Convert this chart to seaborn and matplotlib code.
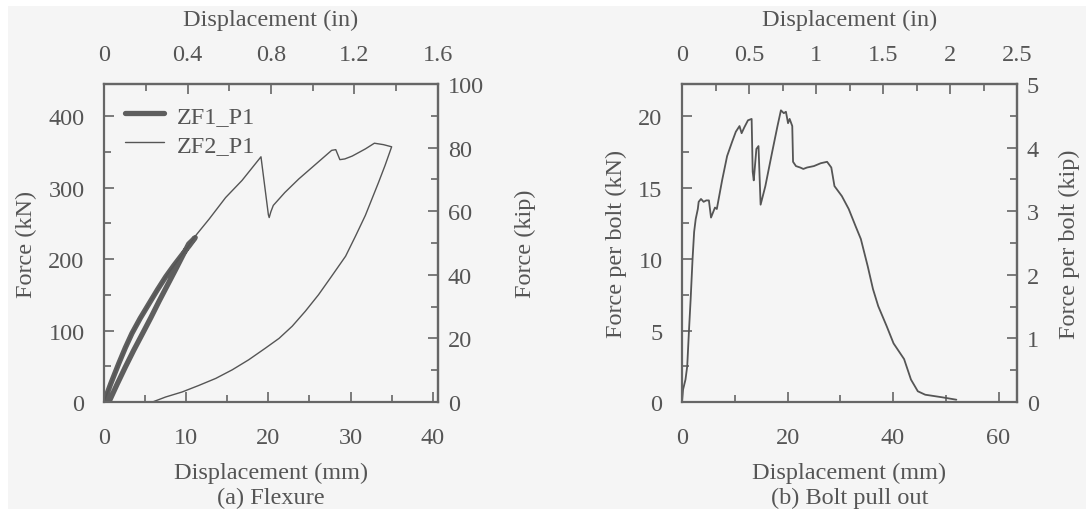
import numpy as np
import pandas as pd
import matplotlib
matplotlib.use("Agg")
import matplotlib.pyplot as plt
import seaborn as sns
from matplotlib.ticker import MultipleLocator, FixedLocator, FuncFormatter
from matplotlib.patches import Rectangle

# ---------------- data ----------------
# (a) Flexure: force (kN) vs displacement (mm)
zf1_disp = [0, 0.8, 1.8, 2.6, 3.4, 4.4, 5.5, 6.5, 7.5, 8.5, 9.5, 10.4, 11.1,
            10.3, 9.5, 8.7, 7.7, 6.7, 5.7, 4.7, 3.6, 2.6, 1.6, 0.6]
zf1_force = [0, 25, 54, 76, 96, 117, 138, 157, 175, 191, 206, 219, 230,
             221, 203, 185, 163, 141, 118, 96, 72, 49, 25, 0]

zf2_disp = [0, 0.8, 1.8, 3.4, 5.5, 7.5, 9.5, 11.1, 12.8, 14.8, 16.8, 19.1,
            20.0, 20.1, 20.3, 20.6, 22.0, 23.7, 25.7, 27.7, 28.2, 28.7, 29.3,
            30.2, 31.0, 31.8, 32.9, 34.0, 35.0, 34.2, 33.4, 32.6, 31.8, 30.6,
            29.4, 27.7, 26.1, 24.5, 22.9, 21.3, 19.6, 17.6, 15.6, 13.6, 11.5,
            9.5, 7.5, 5.9]
zf2_force = [0, 25, 54, 96, 138, 175, 206, 232, 256, 286, 310, 343,
             262, 258, 266, 275, 293, 312, 332, 352, 353, 339, 340,
             344, 349, 354, 362, 360, 357, 331, 307, 284, 261, 232,
             204, 176, 150, 127, 106, 89, 75, 59, 45, 33, 23,
             14, 7, 0]

# (b) Bolt pull out: force per bolt (kN) vs displacement (mm)
bolt_disp = [0, 0.2, 0.66, 0.99, 1.3, 1.64, 2.0, 2.3, 2.6, 3.0, 3.16, 3.6, 4.1,
             4.6, 5.1, 5.5, 6.25, 6.6, 7.6, 8.55, 9.5, 10.2, 10.9, 11.3, 11.8,
             12.5, 13.2, 13.4, 13.6, 14.1, 14.5, 14.9, 15.8, 17.1, 18.1, 18.75,
             19.3, 19.7, 20.1, 20.4, 20.9, 21.05, 21.6, 22.4, 23.0, 23.7, 25.0,
             26.3, 27.5, 28.3, 28.9, 30.3, 31.6, 32.9, 33.9, 35.2, 36.2, 37.2,
             38.8, 40.1, 42.1, 43.4, 44.7, 46.1, 49.3, 52.0]
bolt_force = [0, 0.87, 1.57, 2.5, 4.84, 7.2, 10.0, 11.9, 12.8, 13.5, 14.0, 14.2,
              14.0, 14.1, 14.1, 12.9, 13.6, 13.5, 15.5, 17.2, 18.2, 18.9, 19.3,
              18.8, 19.2, 19.7, 19.8, 16.1, 15.5, 17.7, 17.9, 13.8, 15.1, 17.5,
              19.3, 20.4, 20.2, 20.3, 19.5, 19.8, 19.3, 16.8, 16.5, 16.4, 16.3,
              16.4, 16.5, 16.7, 16.8, 16.4, 15.1, 14.4, 13.5, 12.3, 11.4, 9.5,
              7.9, 6.7, 5.3, 4.1, 3.0, 1.57, 0.75, 0.51, 0.33, 0.16]

series_labels = ["ZF1_P1", "ZF2_P1"]
panel_titles = ["(a) Flexure", "(b) Bolt pull out"]

# tick values (labelled)
a_in_ticks = [0, 0.4, 0.8, 1.2, 1.6]
a_kip_ticks = [0, 20, 40, 60, 80, 100]
b_in_ticks = [0, 0.5, 1, 1.5, 2, 2.5]
b_kip_ticks = [0, 1, 2, 3, 4, 5]

MM_PER_IN = 25.4
KN_PER_KIP = 4.44822

# ---------------- style ----------------
sns.set_theme(style="ticks")
plt.rcParams["font.family"] = ["Liberation Serif", "DejaVu Serif"]
TXT = "#555555"
BG = "#f5f5f5"
FS = 17.5
plt.rcParams.update({
    "text.color": TXT, "axes.labelcolor": TXT,
    "xtick.color": "#666666", "ytick.color": "#666666",
    "xtick.labelcolor": TXT, "ytick.labelcolor": TXT,
    "axes.edgecolor": "#666666",
})

W, H = 1086, 510
fig = plt.figure(figsize=(W / 100, H / 100), dpi=100, facecolor="white")
fig.patches.append(Rectangle((8 / W, 0), 1, (H - 7) / H, transform=fig.transFigure,
                             facecolor=BG, edgecolor="none", zorder=-10))


def box(x0, y0, x1, y1):
    return [x0 / W, 1 - y1 / H, (x1 - x0) / W, (y1 - y0) / H]


def minor_between(ticks):
    return [(a + b) / 2 for a, b in zip(ticks[:-1], ticks[1:])]


def style_axes(ax, sec_x, sec_y, xmaj, xmin, ymaj, ymin, sx_ticks, sy_ticks):
    ax.set_facecolor(BG)
    for s in ax.spines.values():
        s.set_linewidth(1.6)
        s.set_color("#666666")
    for a in (ax, sec_x, sec_y):
        a.tick_params(which="both", direction="in", labelsize=FS, width=1.2)
        a.tick_params(which="major", length=7)
        a.tick_params(which="minor", length=5)
    ax.tick_params(axis="x", which="both", pad=18)
    ax.tick_params(axis="y", which="both", pad=14)
    sec_x.tick_params(axis="x", which="both", pad=14)
    sec_y.tick_params(axis="y", which="both", pad=7)
    ax.xaxis.set_major_locator(MultipleLocator(xmaj))
    ax.xaxis.set_minor_locator(MultipleLocator(xmin))
    ax.yaxis.set_major_locator(MultipleLocator(ymaj))
    ax.yaxis.set_minor_locator(MultipleLocator(ymin))
    sec_x.xaxis.set_major_locator(FixedLocator(sx_ticks))
    sec_x.xaxis.set_minor_locator(FixedLocator(minor_between(sx_ticks)))
    sec_x.xaxis.set_major_formatter(FuncFormatter(lambda v, p: f"{v:g}"))
    sec_y.yaxis.set_major_locator(FixedLocator(sy_ticks))
    sec_y.yaxis.set_minor_locator(FixedLocator(minor_between(sy_ticks)))
    sec_y.yaxis.set_major_formatter(FuncFormatter(lambda v, p: f"{v:g}"))
    for sp in list(sec_x.spines.values()) + list(sec_y.spines.values()):
        sp.set_linewidth(1.6)
        sp.set_color("#808080")


# ---------- (a) Flexure ----------
ax1 = fig.add_axes(box(104, 85, 438, 403))
df1 = pd.DataFrame({"d": zf1_disp, "f": zf1_force})
df2 = pd.DataFrame({"d": zf2_disp, "f": zf2_force})
sns.lineplot(data=df1, x="d", y="f", sort=False, estimator=None, ax=ax1,
             color="#5e5e5e", linewidth=3.8, label=series_labels[0])
sns.lineplot(data=df2, x="d", y="f", sort=False, estimator=None, ax=ax1,
             color="#555555", linewidth=1.0, label=series_labels[1])
ax1.set_xlim(0, a_in_ticks[-1] * MM_PER_IN)
ax1.set_ylim(0, a_kip_ticks[-1] * KN_PER_KIP)
ax1.set_xlabel("Displacement (mm)", fontsize=FS, labelpad=10)
ax1.set_ylabel("Force (kN)", fontsize=FS, labelpad=8)
sx1 = ax1.secondary_xaxis("top", functions=(lambda v: v / MM_PER_IN, lambda v: v * MM_PER_IN))
sy1 = ax1.secondary_yaxis("right", functions=(lambda v: v / KN_PER_KIP, lambda v: v * KN_PER_KIP))
sx1.set_xlabel("Displacement (in)", fontsize=FS, labelpad=13)
sy1.set_ylabel("Force (kip)", fontsize=FS, labelpad=22)
style_axes(ax1, sx1, sy1, 10, 5, 100, 50, a_in_ticks, a_kip_ticks)
leg = ax1.legend(loc="upper left", frameon=False, fontsize=FS, handlelength=1.6,
                 borderaxespad=0.55, labelspacing=0.3, handletextpad=0.55,
                 borderpad=0.3)
for t in leg.get_texts():
    t.set_color(TXT)
fig.text((104 + 438) / 2 / W, 1 - 498 / H, panel_titles[0], ha="center", va="center",
         fontsize=FS, color=TXT)

# ---------- (b) Bolt pull out ----------
ax2 = fig.add_axes(box(682, 85, 1017, 403))
df3 = pd.DataFrame({"d": bolt_disp, "f": bolt_force})
sns.lineplot(data=df3, x="d", y="f", sort=False, estimator=None, ax=ax2,
             color="#555555", linewidth=1.3)
ax2.set_xlim(0, b_in_ticks[-1] * MM_PER_IN)
ax2.set_ylim(0, b_kip_ticks[-1] * KN_PER_KIP)
ax2.set_xlabel("Displacement (mm)", fontsize=FS, labelpad=10)
ax2.set_ylabel("Force per bolt (kN)", fontsize=FS, labelpad=8)
sx2 = ax2.secondary_xaxis("top", functions=(lambda v: v / MM_PER_IN, lambda v: v * MM_PER_IN))
sy2 = ax2.secondary_yaxis("right", functions=(lambda v: v / KN_PER_KIP, lambda v: v * KN_PER_KIP))
sx2.set_xlabel("Displacement (in)", fontsize=FS, labelpad=13)
sy2.set_ylabel("Force per bolt (kip)", fontsize=FS, labelpad=14)
style_axes(ax2, sx2, sy2, 20, 10, 5, 2.5, b_in_ticks, b_kip_ticks)
fig.text((682 + 1017) / 2 / W, 1 - 498 / H, panel_titles[1], ha="center", va="center",
         fontsize=FS, color=TXT)

fig.savefig("out.png", dpi=100, facecolor=fig.get_facecolor())
